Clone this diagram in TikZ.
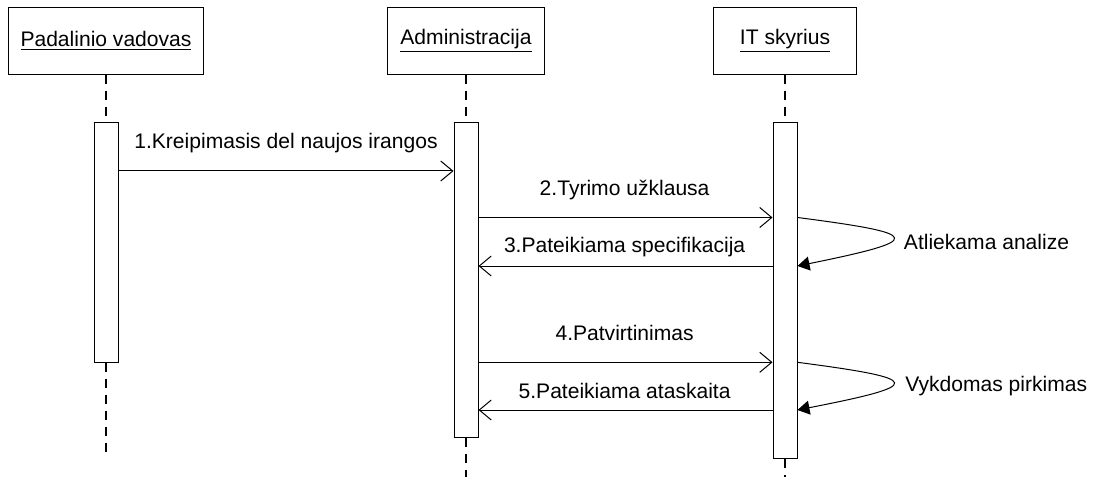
\documentclass[tikz,border=0pt]{standalone}
\usepackage{fontspec}
\setmainfont{Liberation Sans}
\usetikzlibrary{arrows.meta}
\tikzset{
  lbl/.style={font=\fontsize{15.8pt}{19pt}\selectfont, inner sep=0pt},
  actor/.style={draw, line width=0.75pt, minimum height=50.25pt, inner sep=0pt, lbl},
  actbar/.style={draw, fill=white, line width=0.75pt, minimum width=18pt, inner sep=0pt},
  lifeline/.style={line width=1.8pt, dash pattern=on 6.75pt off 5.25pt},
  msg/.style={line width=0.75pt, -{Straight Barb[length=9pt,width=15pt,line width=0.75pt]}},
  selfmsg/.style={line width=0.75pt, -{Triangle[length=9pt,width=10.5pt]}},
}
\begin{document}
\begin{tikzpicture}[x=0.75pt,y=-0.75pt]
\useasboundingbox (0,0) rectangle (1094,477);

% participants
\node[actor, minimum width=146.25pt] (pv) at (106,40.7) {\underline{Padalinio vadovas}};
\node[actor, minimum width=117.75pt] (adm) at (466,40.7) {\underline{Administracija}};
\node[actor, minimum width=107.7pt] (it) at (785,40.7) {\underline{IT skyrius}};

% activation bars
\node[actbar, minimum height=179.5pt] (a1) at (106,242.35) {};
\node[actbar, minimum height=236pt] (a2) at (466,280) {};
\node[actbar, minimum height=251.5pt] (a3) at (785,290.35) {};

% lifeline ends
\coordinate (e1) at (106,457);
\coordinate (e2) at (466,477);
\coordinate (e3) at (785,477);

% lifelines
\draw[lifeline] (pv.south) -- (a1.north);
\draw[lifeline] (adm.south) -- (a2.north);
\draw[lifeline] (it.south) -- (a3.north);
\draw[lifeline] (a1.south) -- (e1);
\draw[lifeline] (a2.south) -- (e2);
\draw[lifeline] (a3.south) -- (e3);

% message anchor points on the bars
\coordinate (m1s) at (a1.east |- 0,171);
\coordinate (m1e) at (a2.west |- 0,171);
\coordinate (m2s) at (a2.east |- 0,217.5);
\coordinate (m2e) at (a3.west |- 0,217.5);
\coordinate (m3s) at (a3.west |- 0,266);
\coordinate (m3e) at (a2.east |- 0,266);
\coordinate (m4s) at (a2.east |- 0,362.3);
\coordinate (m4e) at (a3.west |- 0,362.3);
\coordinate (m5s) at (a3.west |- 0,410);
\coordinate (m5e) at (a2.east |- 0,410);

% messages
\draw[msg] (m1s) -- (m1e);
\draw[msg] (m2s) -- (m2e);
\draw[msg] (m3s) -- (m3e);
\draw[msg] (m4s) -- (m4e);
\draw[msg] (m5s) -- (m5e);

\node[lbl] (t1) at (286,143) {1.Kreipimasis del naujos irangos};
\node[lbl] (t2) at (624.6,190) {2.Tyrimo užklausa};
\node[lbl] (t3) at (624.6,247) {3.Pateikiama specifikacija};
\node[lbl] (t4) at (624.6,333) {4.Patvirtinimas};
\node[lbl] (t5) at (624.6,390.7) {5.Pateikiama ataskaita};

% self calls on IT skyrius
\coordinate (s1a) at (a3.east |- 0,217.5);
\coordinate (s1b) at (a3.east |- 0,266);
\coordinate (s2a) at (a3.east |- 0,362.3);
\coordinate (s2b) at (a3.east |- 0,410);
\draw[selfmsg] (s1a) .. controls (925,234) and (925,240) .. (s1b);
\draw[selfmsg] (s2a) .. controls (925,379) and (925,385) .. (s2b);

\node[lbl, anchor=west] (l1) at (903.7,242) {Atliekama analize};
\node[lbl, anchor=west] (l2) at (905,386) {Vykdomas pirkimas};
\end{tikzpicture}
\end{document}
